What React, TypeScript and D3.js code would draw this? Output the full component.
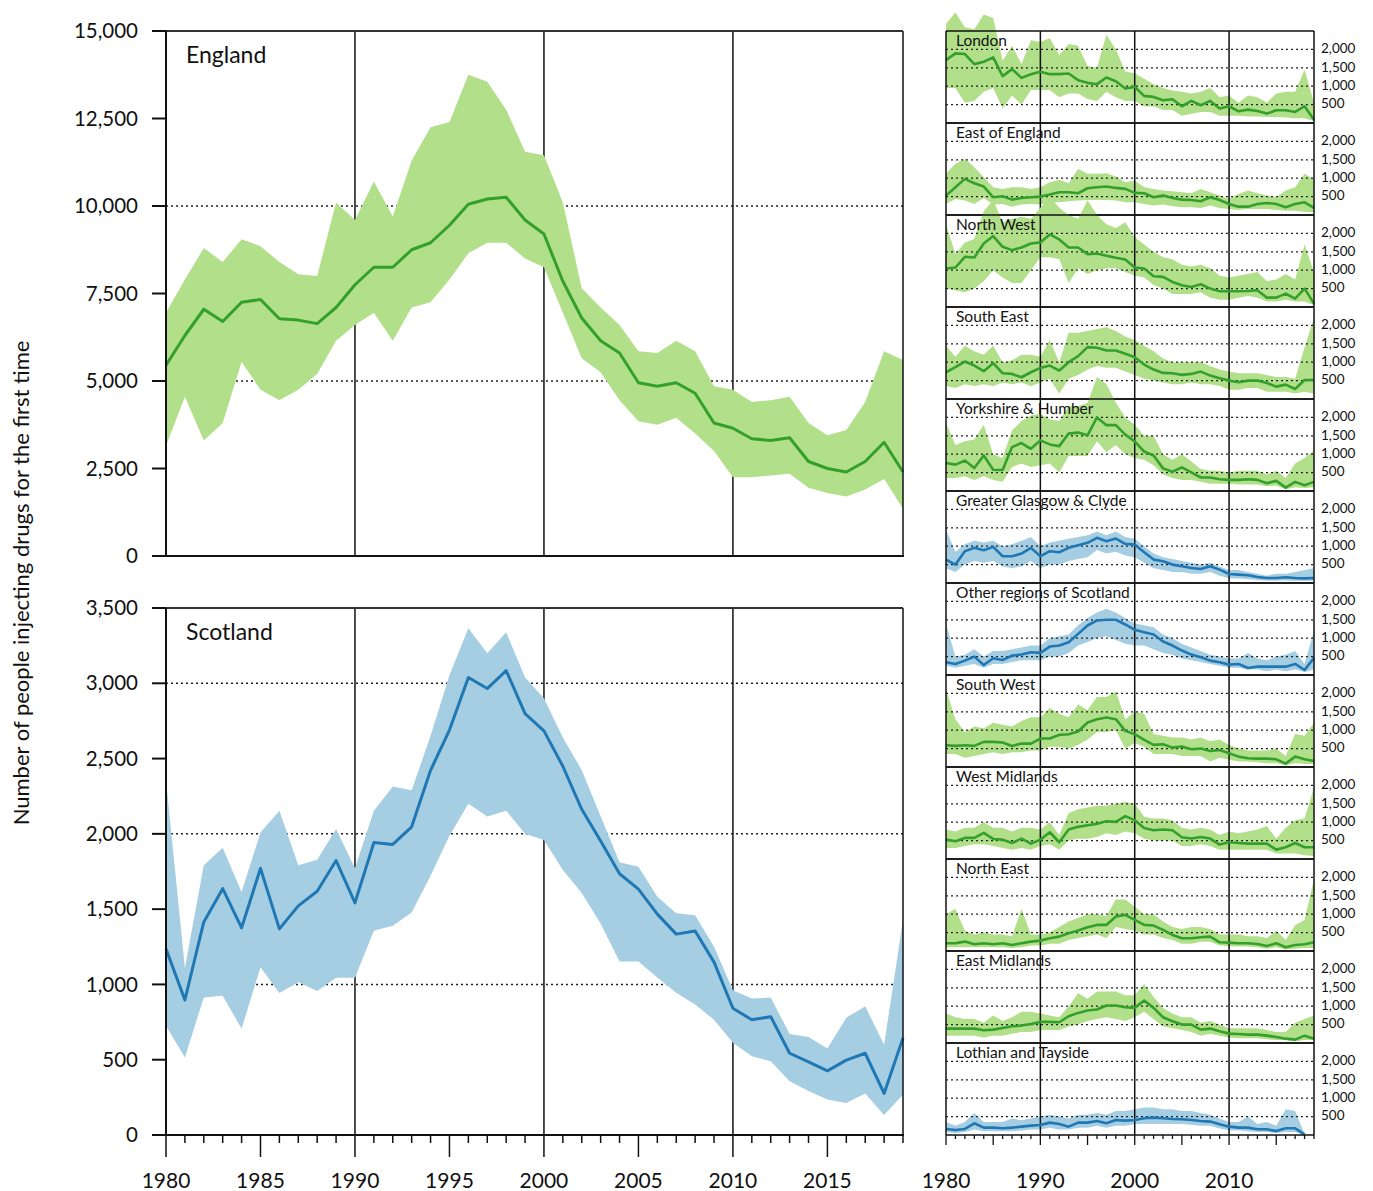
import React from "react";
import * as d3 from "d3";

const years = d3.range(1980, 2020);

const englandMedian = [5450,6300,7050,6700,7250,7330,6780,6740,6640,7100, 7750,8250,8250,8750,8950,9450,10050,10200,10250,9600, 9200,7850,6800,6150,5800,4950,4850,4950,4650,3800, 3650,3350,3300,3380,2700,2500,2400,2700,3250,2400];
const englandUpper = [6950,7900,8800,8400,9050,8850,8400,8050,8000,10100, 9600,10700,9700,11300,12250,12400,13750,13550,12750,11550, 11450,10100,7650,7100,6600,5850,5800,6150,5850,4850, 4750,4400,4450,4550,3800,3450,3600,4400,5850,5600];
const englandLower = [3150,4550,3300,3800,5550,4750,4450,4750,5200,6150, 6600,6950,6150,7100,7250,7900,8650,8950,8950,8500, 8250,6950,5650,5250,4450,3850,3750,3950,3500,3000, 2250,2250,2300,2350,1950,1800,1700,1900,2200,1350];

const scotlandMedian = [1236,897,1415,1636,1376,1771,1369,1522,1619,1823, 1542,1942,1930,2047,2422,2689,3038,2965,3084,2799, 2684,2449,2163,1952,1735,1633,1467,1334,1355,1148, 842,765,786,543,485,426,497,543,276,645];
const scotlandUpper = [2358,1109,1792,1907,1614,2009,2154,1792,1828,2032, 1772,2154,2315,2289,2651,3054,3365,3199,3339,3039, 2900,2640,2423,2117,1811,1781,1582,1472,1459,1250, 962,906,913,671,651,574,778,855,599,1429];
const scotlandLower = [726,515,913,925,706,1114,943,1015,956,1045, 1045,1356,1389,1478,1721,1988,2200,2116,2154,2001, 1960,1760,1607,1403,1153,1153,1046,944,867,765, 612,523,490,357,293,235,212,276,133,268];

const londonMedian = [1709,1891,1873,1600,1664,1782,1273,1464,1227,1327, 1391,1327,1327,1345,1164,1091,1055,1236,1136,936, 982,736,709,618,645,455,600,482,600,391, 455,318,364,327,255,345,345,300,455,91];
const londonUpper = [2700,3000,2600,2550,2950,2850,1700,2100,1600,2250, 2200,2300,1850,2150,2100,1550,1500,2400,2000,1400, 1350,1200,1050,950,880,850,800,850,950,700, 750,550,750,700,550,800,850,850,1450,550];
const londonLower = [950,950,550,600,850,950,400,750,500,900, 900,900,700,800,800,650,600,850,700,600, 600,450,450,350,350,200,250,300,300,200, 200,200,180,180,160,160,150,130,130,50];

const eastEnglandMedian = [527,755,982,864,773,482,509,418,464,482, 500,555,618,618,591,727,755,773,736,709, 600,591,482,527,464,418,409,373,482,409, 300,227,227,300,327,300,209,300,345,191];
const eastEnglandUpper = [1118,1391,1527,1300,1027,755,709,755,755,709, 755,891,955,864,1255,1118,1118,1136,1045,891, 936,755,709,664,645,618,591,709,618,527, 436,573,664,591,527,482,664,755,1118,955];
const eastEnglandLower = [300,436,391,300,464,282,300,227,282,300, 282,345,345,373,391,409,409,409,391,345, 345,300,255,282,236,209,209,191,255,191, 164,136,164,164,164,136,118,118,91,73];

const northWestMedian = [1045,1073,1364,1345,1727,1927,1636,1545,1618,1727, 1755,1973,1836,1618,1618,1436,1455,1391,1336,1291, 1073,1045,836,818,682,591,545,618,500,427, 427,427,436,455,255,255,364,227,500,91];
const northWestUpper = [2250,1450,1750,1850,2600,2900,2300,2400,2450,2400, 2700,3000,2700,2500,2400,2900,2500,2250,2150,2300, 1900,1700,1500,1350,1300,1150,1100,1150,1050,850, 800,850,900,950,700,750,900,750,1700,950];
const northWestLower = [500,450,400,500,700,1000,800,650,650,1000, 1350,1350,1300,650,1050,900,1000,1050,1050,950, 850,800,600,500,350,350,350,400,250,200, 200,250,300,250,150,150,200,150,150,50];

const southEastMedian = [727,864,1018,909,755,973,700,682,591,727, 845,909,773,1000,1164,1409,1391,1318,1318,1227, 1136,936,800,709,700,655,682,745,636,564, 500,455,500,500,436,336,391,273,518,518];
const southEastUpper = [1450,1150,1450,1300,1200,1450,1000,1050,1200,1200, 1150,1600,1000,1800,1800,1850,1900,1950,1850,1700, 1600,1450,1300,1100,1000,1000,1000,1000,900,800, 750,700,700,700,650,600,600,550,1400,2200];
const southEastLower = [350,300,400,350,400,350,450,400,450,350, 450,550,150,550,650,800,900,850,850,750, 650,550,500,450,400,400,450,400,400,350, 250,250,300,300,200,200,200,150,200,150];

const yorkshireMedian = [761,716,826,624,963,578,569,1193,1303,1147, 1376,1266,1220,1560,1587,1514,2000,1789,1789,1532, 1349,1073,963,615,523,642,505,367,367,321, 303,303,321,303,211,275,92,248,156,248];
const yorkshireUpper = [1850,1250,1350,1400,1800,1000,900,1650,1900,2050, 2100,1950,1900,2300,2300,2400,3100,2900,2400,2000, 1800,1500,1500,1000,850,1000,800,600,550,550, 500,550,550,550,450,550,350,750,900,1100];
const yorkshireLower = [350,350,400,300,400,300,250,650,750,650, 700,750,500,950,950,950,1350,1050,1250,1000, 900,850,700,450,350,300,300,250,200,200, 200,180,180,180,130,150,50,100,80,100];

const glasgowMedian = [636,500,864,955,891,982,727,727,800,955, 727,864,836,955,1027,1091,1227,1136,1209,1064, 1045,836,636,591,500,455,409,382,455,364, 245,227,209,164,136,136,155,136,127,136];
const glasgowUpper = [1450,850,1050,1150,1100,1150,1000,1050,1150,1250, 1000,1100,1150,1200,1250,1300,1400,1300,1400,1250, 1200,1000,800,700,650,600,550,500,550,450, 350,350,300,250,200,250,250,300,350,400];
const glasgowLower = [400,300,500,600,550,600,450,400,450,600, 400,500,500,600,650,700,900,800,850,750, 700,550,400,350,300,300,250,250,300,200, 130,120,100,80,60,60,70,60,60,60];

const otherScotlandMedian = [345,300,391,500,273,455,409,527,555,618, 600,773,800,891,1118,1345,1482,1500,1500,1373, 1227,1164,1100,909,800,664,555,482,391,345, 282,300,191,227,227,227,227,300,136,464];
const otherScotlandUpper = [1400,500,550,700,500,650,650,700,750,800, 800,1000,1050,1100,1350,1550,1700,1800,1700,1550, 1400,1350,1300,1100,1000,850,750,650,550,500, 450,450,600,450,400,500,550,650,300,1200];
const otherScotlandLower = [250,200,250,300,200,300,300,350,400,400, 400,500,500,600,800,900,1000,1050,950,850, 800,800,700,600,550,450,400,350,300,250, 200,200,150,150,100,150,100,150,80,150];

const southWestMedian = [591,573,591,573,682,682,664,573,636,636, 773,773,873,891,964,1209,1300,1345,1300,982, 891,736,600,618,527,555,482,500,436,464, 373,282,236,227,227,209,91,282,209,164];
const southWestUpper = [2100,1300,950,1100,1050,1200,1150,1100,1250,1350, 1350,1600,1450,1350,1700,1550,1900,1900,2050,1300, 1500,1450,900,850,800,800,750,800,700,750, 600,500,450,450,450,500,300,900,850,1200];
const southWestLower = [350,350,250,300,350,400,350,400,400,450, 450,550,550,500,600,750,950,950,1000,500, 650,550,350,350,350,300,300,300,150,250, 200,150,150,130,100,100,50,100,80,80];

const westMidlandsMedian = [527,482,573,573,709,545,527,436,555,418, 527,727,455,800,873,918,955,1027,1009,1164, 1055,845,782,800,782,591,555,600,555,391, 455,436,418,418,418,255,318,436,318,318];
const westMidlandsUpper = [800,750,850,850,1000,850,850,750,850,850, 800,1000,650,1250,1350,1400,1450,1450,1500,1550, 1500,1150,1100,1100,1050,850,800,850,800,650, 750,700,750,800,900,550,850,1050,1100,1950];
const westMidlandsLower = [300,300,350,400,400,350,300,250,300,250, 350,400,250,500,550,550,600,700,650,750, 700,550,500,500,500,350,350,400,350,250, 250,250,250,250,250,150,150,150,100,80];

const northEastMedian = [209,209,255,182,209,182,209,164,209,255, 282,345,391,482,555,645,709,709,936,982, 845,709,691,573,436,345,345,373,391,236, 227,209,209,191,136,209,100,164,182,236];
const northEastUpper = [1000,1150,550,450,500,450,450,400,1150,450, 450,500,650,800,900,1000,1000,950,1400,1400, 1200,1000,1000,800,650,600,650,650,600,450, 450,450,400,400,350,550,300,700,850,1950];
const northEastLower = [100,100,100,100,100,100,100,80,100,150, 150,200,200,300,350,400,450,350,650,600, 550,450,450,350,300,200,200,250,250,150, 130,120,120,100,60,100,40,60,80,80];

const eastMidlandsMedian = [391,391,391,391,345,364,409,455,473,518, 573,573,564,727,818,882,909,1018,1018,973, 955,1155,955,700,591,500,500,364,391,318, 255,245,227,227,200,164,118,91,200,118];
const eastMidlandsUpper = [800,700,650,650,550,750,600,700,850,850, 800,750,700,1000,1350,1200,1400,1400,1400,1300, 1300,1600,1250,950,800,700,700,550,600,500, 400,400,400,400,350,300,300,550,650,750];
const eastMidlandsLower = [200,200,200,200,150,200,200,250,300,300, 350,350,350,450,500,600,650,700,650,600, 700,850,650,450,400,350,300,200,250,200, 150,130,130,130,100,80,80,50,80,80];

const lothianMedian = [164,136,164,318,200,200,182,200,227,255, 273,336,300,227,336,336,382,318,409,391, 409,455,473,455,436,427,409,382,364,291, 227,200,200,155,155,109,182,182,15,null];
const lothianUpper = [350,250,350,600,350,350,350,450,400,450, 500,550,500,450,550,550,600,550,650,650, 700,750,750,700,700,650,650,600,550,450, 350,350,500,300,350,250,700,650,30,null];
const lothianLower = [80,50,80,150,100,100,100,100,120,150, 150,200,150,150,200,200,250,200,250,250, 300,300,300,300,300,300,280,250,250,180, 130,120,100,80,80,50,80,80,0,null];

const regionNames = ["London","East of England","North West","South East","Yorkshire & Humber","Greater Glasgow & Clyde","Other regions of Scotland","South West","West Midlands","North East","East Midlands","Lothian and Tayside"];
const regionNation = ["E","E","E","E","E","S","S","E","E","E","E","S"];
const regionMedians = [londonMedian,eastEnglandMedian,northWestMedian,southEastMedian,yorkshireMedian,glasgowMedian,otherScotlandMedian,southWestMedian,westMidlandsMedian,northEastMedian,eastMidlandsMedian,lothianMedian];
const regionUppers = [londonUpper,eastEnglandUpper,northWestUpper,southEastUpper,yorkshireUpper,glasgowUpper,otherScotlandUpper,southWestUpper,westMidlandsUpper,northEastUpper,eastMidlandsUpper,lothianUpper];
const regionLowers = [londonLower,eastEnglandLower,northWestLower,southEastLower,yorkshireLower,glasgowLower,otherScotlandLower,southWestLower,westMidlandsLower,northEastLower,eastMidlandsLower,lothianLower];

const englandTicks = [0,2500,5000,7500,10000,12500,15000];
const englandGrid = [5000,10000];
const scotlandTicks = [0,500,1000,1500,2000,2500,3000,3500];
const scotlandGrid = [1000,2000,3000];
const smallTicks = [500,1000,1500,2000];
const decadeLines = [1990,2000,2010];
const mainYearLabels = [1980,1985,1990,1995,2000,2005,2010,2015];
const smallYearLabels = [1980,1990,2000,2010];

const COLORS = {
  E: { band: "#b2df8a", line: "#33a02c" },
  S: { band: "#a6cee3", line: "#1f78b4" },
};
const FONT = "Lato, 'Open Sans', sans-serif";
const INK = "#111";

type Row = { year: number; m: number | null; lo: number | null; hi: number | null };
const rows = (m: (number | null)[], lo: (number | null)[], hi: (number | null)[]): Row[] =>
  years.map((year, i) => ({ year, m: m[i], lo: lo[i], hi: hi[i] }));

function MainPanel(props: {
  name: string; nation: "E" | "S"; med: number[]; lo: number[]; hi: number[];
  top: number; bottom: number; max: number; ticks: number[]; grid: number[]; xAxis: boolean;
}) {
  const { name, nation, med, lo, hi, top, bottom, max, ticks, grid, xAxis } = props;
  const x = d3.scaleLinear().domain([1980, 2019]).range([166, 903]);
  const y = d3.scaleLinear().domain([0, max]).range([bottom, top]);
  const data = rows(med, lo, hi);
  const area = d3.area<Row>().x(d => x(d.year)).y0(d => y(d.lo as number)).y1(d => y(d.hi as number));
  const line = d3.line<Row>().x(d => x(d.year)).y(d => y(d.m as number));
  const fmt = d3.format(",");
  const c = COLORS[nation];
  return (
    <g>
      {grid.map(v => (
        <line key={"g" + v} x1={x(1980)} x2={x(2019)} y1={y(v)} y2={y(v)} stroke="#222" strokeWidth={1.5} strokeDasharray="2,3" />
      ))}
      {decadeLines.map(v => (
        <line key={"d" + v} x1={x(v)} x2={x(v)} y1={top} y2={bottom} stroke={INK} strokeWidth={1.5} />
      ))}
      <path d={area(data) || ""} fill={c.band} />
      <path d={line(data) || ""} fill="none" stroke={c.line} strokeWidth={3} strokeLinejoin="round" />
      <line x1={x(2019)} x2={x(2019)} y1={top} y2={bottom} stroke={INK} strokeWidth={1.5} />
      <line x1={152} x2={x(2019)} y1={top} y2={top} stroke="#333" strokeWidth={2} />
      <line x1={152} x2={x(2019) + 1} y1={bottom} y2={bottom} stroke={INK} strokeWidth={2} />
      <line x1={x(1980)} x2={x(1980)} y1={top} y2={bottom} stroke={INK} strokeWidth={2} />
      {ticks.map(v => (
        <g key={"t" + v}>
          <line x1={152} x2={166} y1={y(v)} y2={y(v)} stroke={INK} strokeWidth={2} />
          <text x={138} y={y(v)} dy="0.35em" textAnchor="end" fontSize={20.5} fontFamily={FONT} fill={INK}>{fmt(v)}</text>
        </g>
      ))}
      <text x={186} y={top + 32} fontSize={23} fontFamily={FONT} fill={INK}>{name}</text>
      {xAxis && years.map(yr => (
        <line key={"xt" + yr} x1={x(yr)} x2={x(yr)} y1={bottom} y2={bottom + (yr % 5 === 0 ? 22 : 8)} stroke={INK} strokeWidth={1.5} />
      ))}
      {xAxis && mainYearLabels.map(yr => (
        <text key={"xl" + yr} x={x(yr)} y={1188} textAnchor="middle" fontSize={21} fontFamily={FONT} fill={INK}>{yr}</text>
      ))}
    </g>
  );
}

function SmallPanel(props: { idx: number }) {
  const { idx } = props;
  const H = 92;
  const top = 31 + idx * H;
  const bottom = top + H;
  const x = d3.scaleLinear().domain([1980, 2019]).range([946, 1314]);
  const y = d3.scaleLinear().domain([0, 2500]).range([bottom, top]);
  const data = rows(regionMedians[idx], regionLowers[idx], regionUppers[idx]);
  const area = d3.area<Row>().defined(d => d.m != null).x(d => x(d.year)).y0(d => y(d.lo as number)).y1(d => y(d.hi as number));
  const line = d3.line<Row>().defined(d => d.m != null).x(d => x(d.year)).y(d => y(d.m as number));
  const c = COLORS[regionNation[idx] as "E" | "S"];
  const fmt = d3.format(",");
  return (
    <g>
      <path d={area(data) || ""} fill={c.band} />
      {smallTicks.map(v => (
        <g key={"g" + v}>
          <line x1={x(1980)} x2={x(2019)} y1={y(v)} y2={y(v)} stroke="#222" strokeWidth={1.3} strokeDasharray="2,3" />
          <text x={1321} y={y(v) - 1} dy="0.35em" fontSize={13.5} fontFamily={FONT} fill={INK}>{fmt(v)}</text>
        </g>
      ))}
      {decadeLines.map(v => (
        <line key={"d" + v} x1={x(v)} x2={x(v)} y1={top} y2={bottom} stroke={INK} strokeWidth={1.5} />
      ))}
      <path d={line(data) || ""} fill="none" stroke={c.line} strokeWidth={2.6} strokeLinejoin="round" />
      <line x1={x(1980)} x2={x(1980)} y1={top} y2={bottom} stroke={INK} strokeWidth={1.5} />
      <line x1={x(2019)} x2={x(2019)} y1={top} y2={bottom} stroke={INK} strokeWidth={1.5} />
      <line x1={x(1980)} x2={x(2019)} y1={top} y2={top} stroke={INK} strokeWidth={1.5} />
      <line x1={x(1980)} x2={x(2019)} y1={bottom} y2={bottom} stroke={INK} strokeWidth={1.5} />
      <text x={956} y={top + 15} fontSize={15.5} fontFamily={FONT} fill={INK}>{regionNames[idx]}</text>
    </g>
  );
}

export default function App() {
  const xs = d3.scaleLinear().domain([1980, 2019]).range([946, 1314]);
  return (
    <svg width={1373} height={1191} style={{ position: "absolute", left: 0, top: 0, background: "#fff" }}>
      <rect x={0} y={0} width={1373} height={1191} fill="#fff" />
      <MainPanel name="England" nation="E" med={englandMedian} lo={englandLower} hi={englandUpper}
        top={31} bottom={556} max={15000} ticks={englandTicks} grid={englandGrid} xAxis={false} />
      <MainPanel name="Scotland" nation="S" med={scotlandMedian} lo={scotlandLower} hi={scotlandUpper}
        top={608} bottom={1135} max={3500} ticks={scotlandTicks} grid={scotlandGrid} xAxis={true} />
      <text transform="translate(29,583) rotate(-90)" textAnchor="middle" fontSize={22} fontFamily={FONT} fill={INK}>
        Number of people injecting drugs for the first time
      </text>
      {regionNames.map((_, i) => <SmallPanel key={i} idx={i} />)}
      {years.map(yr => (
        <line key={"sx" + yr} x1={xs(yr)} x2={xs(yr)} y1={1135} y2={1135 + (yr % 5 === 0 ? 10 : 4)} stroke={INK} strokeWidth={1.3} />
      ))}
      {smallYearLabels.map(yr => (
        <text key={"sl" + yr} x={xs(yr)} y={1188} textAnchor="middle" fontSize={21} fontFamily={FONT} fill={INK}>{yr}</text>
      ))}
    </svg>
  );
}
